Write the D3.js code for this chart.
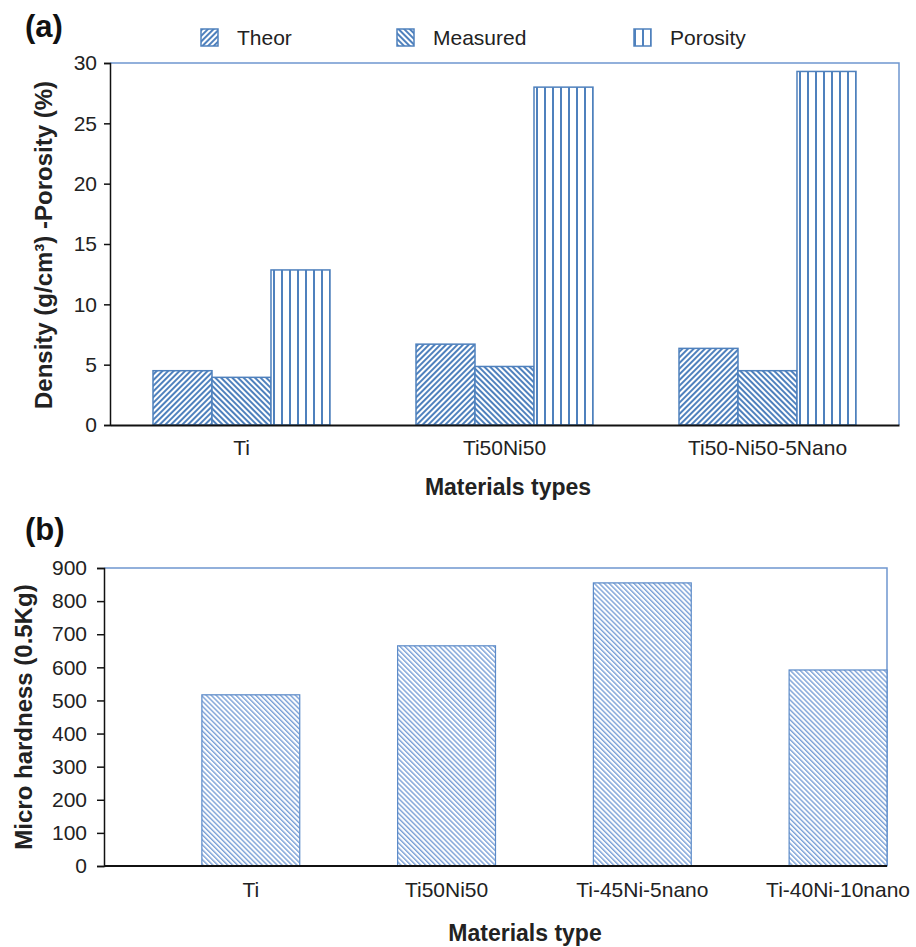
<!DOCTYPE html>
<html>
<head>
<meta charset="utf-8">
<script src="https://cdn.jsdelivr.net/npm/d3@7"></script>
<style>
  body { margin: 0; background: #fff; }
  svg { font-family: Arial, "Liberation Sans", Helvetica, sans-serif; }
</style>
</head>
<body>
<div id="chart"></div>
<script>
// panel (a) data
const catsA = ["Ti", "Ti50Ni50", "Ti50-Ni50-5Nano"];
const seriesA = ["Theor", "Measured", "Porosity"];
const theor = [4.5, 6.7, 6.35];
const measured = [3.95, 4.85, 4.5];
const porosity = [12.85, 28.0, 29.3];
const yTicksA = [0, 5, 10, 15, 20, 25, 30];

// panel (b) data
const catsB = ["Ti", "Ti50Ni50", "Ti-45Ni-5nano", "Ti-40Ni-10nano"];
const hardness = [517, 665, 855, 592];
const yTicksB = [0, 100, 200, 300, 400, 500, 600, 700, 800, 900];

const blue = "#4f81bd";
const W = 916, H = 947;

const svg = d3.select("#chart").append("svg")
  .attr("width", W)
  .attr("height", H);

// hatch patterns
const defs = svg.append("defs");
function hatch(id, angle, size, lw, color) {
  const p = defs.append("pattern")
    .attr("id", id)
    .attr("patternUnits", "userSpaceOnUse")
    .attr("width", size)
    .attr("height", size)
    .attr("patternTransform", `rotate(${angle})`);
  p.append("rect").attr("width", size).attr("height", size).attr("fill", "#fff");
  p.append("rect").attr("width", lw).attr("height", size).attr("fill", color);
}
hatch("p-theor", 45, 4, 2, blue);
hatch("p-meas", -45, 4, 2, blue);
hatch("p-poro", 0, 8, 2, blue);
hatch("p-hard", -45, 3.5, 1.4, "#7aa0d6");
const fills = { Theor: "url(#p-theor)", Measured: "url(#p-meas)", Porosity: "url(#p-poro)" };

// ---------- panel (a) ----------
const a = { left: 110, right: 899, top: 63, bottom: 425 };
const dataA = catsA.map((c, i) => ({ cat: c, Theor: theor[i], Measured: measured[i], Porosity: porosity[i] }));

const x0 = d3.scaleBand().domain(catsA).range([a.left, a.right])
  .paddingInner(0.327).paddingOuter(0.1635);
const x1 = d3.scaleBand().domain(seriesA).range([0, x0.bandwidth()]);
const yA = d3.scaleLinear().domain([0, 30]).range([a.bottom, a.top]);

// plot frame (top and right in blue)
svg.append("path")
  .attr("d", `M${a.left},${a.top}H${a.right}V${a.bottom}`)
  .attr("fill", "none").attr("stroke", "#6f97d0").attr("stroke-width", 1.5);

svg.append("g")
  .selectAll("g")
  .data(dataA)
  .join("g")
  .attr("transform", d => `translate(${x0(d.cat)},0)`)
  .selectAll("rect")
  .data(d => seriesA.map(s => ({ s, v: d[s] })))
  .join("rect")
  .attr("x", d => x1(d.s))
  .attr("y", d => yA(d.v))
  .attr("width", x1.bandwidth())
  .attr("height", d => yA(0) - yA(d.v))
  .attr("fill", d => fills[d.s])
  .attr("stroke", blue)
  .attr("stroke-width", 1.5);

const yAxA = svg.append("g")
  .attr("transform", `translate(${a.left},0)`)
  .call(d3.axisLeft(yA).tickValues(yTicksA).tickSize(6).tickPadding(7));
yAxA.selectAll("text").attr("font-size", 21).attr("fill", "#222");
yAxA.selectAll("line, path").attr("stroke", "#111").attr("stroke-width", 1.5);

const xAxA = svg.append("g")
  .attr("transform", `translate(0,${a.bottom})`)
  .call(d3.axisBottom(x0).tickSize(0).tickPadding(15));
xAxA.select(".domain").attr("stroke", "#111").attr("stroke-width", 2);
xAxA.selectAll("text").attr("font-size", 21).attr("fill", "#222");

svg.append("text")
  .attr("transform", `translate(52,245) rotate(-90)`)
  .attr("text-anchor", "middle")
  .attr("font-size", 24).attr("font-weight", "bold").attr("fill", "#222")
  .text("Density (g/cm³) -Porosity (%)");

svg.append("text")
  .attr("x", 508).attr("y", 495)
  .attr("text-anchor", "middle")
  .attr("font-size", 23).attr("font-weight", "bold").attr("fill", "#222")
  .text("Materials types");

svg.append("text")
  .attr("x", 25).attr("y", 37)
  .attr("font-size", 31).attr("font-weight", "bold").attr("fill", "#111")
  .text("(a)");

// legend
const legendX = [201, 397, 634];
const leg = svg.append("g")
  .selectAll("g")
  .data(seriesA)
  .join("g")
  .attr("transform", (d, i) => `translate(${legendX[i]},29)`);
leg.append("rect")
  .attr("width", 17).attr("height", 17)
  .attr("fill", d => fills[d])
  .attr("stroke", blue).attr("stroke-width", 1.5);
leg.append("text")
  .attr("x", 36).attr("y", 16)
  .attr("font-size", 21).attr("fill", "#222")
  .text(d => d);

// ---------- panel (b) ----------
const b = { left: 104, right: 887, top: 568, bottom: 866 };
const xB = d3.scaleBand().domain(catsB).range([b.left, b.right]);
const yB = d3.scaleLinear().domain([0, 900]).range([b.bottom, b.top]);
const bw = xB.bandwidth();

svg.append("path")
  .attr("d", `M${b.left},${b.top}H${b.right}V${b.bottom}`)
  .attr("fill", "none").attr("stroke", "#6f97d0").attr("stroke-width", 1.5);

svg.append("g")
  .selectAll("rect")
  .data(catsB.map((c, i) => ({ cat: c, v: hardness[i] })))
  .join("rect")
  .attr("x", d => xB(d.cat) + bw / 2)
  .attr("y", d => yB(d.v))
  .attr("width", bw / 2)
  .attr("height", d => yB(0) - yB(d.v))
  .attr("fill", "url(#p-hard)")
  .attr("stroke", "#5b8ac8")
  .attr("stroke-width", 1.2);

const yAxB = svg.append("g")
  .attr("transform", `translate(${b.left},0)`)
  .call(d3.axisLeft(yB).tickValues(yTicksB).tickSize(7).tickPadding(10));
yAxB.selectAll("text").attr("font-size", 21).attr("fill", "#222");
yAxB.selectAll("line, path").attr("stroke", "#111").attr("stroke-width", 1.5);

svg.append("line")
  .attr("x1", b.left).attr("x2", b.right)
  .attr("y1", b.bottom).attr("y2", b.bottom)
  .attr("stroke", "#111").attr("stroke-width", 2);

// labels sit under the bars, which fill the right half of each band
const xAxB = svg.append("g")
  .attr("transform", `translate(${bw / 4},${b.bottom})`)
  .call(d3.axisBottom(xB).tickSize(0).tickPadding(16));
xAxB.select(".domain").remove();
xAxB.selectAll("text").attr("font-size", 21).attr("fill", "#222");

svg.append("text")
  .attr("transform", `translate(32,717) rotate(-90)`)
  .attr("text-anchor", "middle")
  .attr("font-size", 24).attr("font-weight", "bold").attr("fill", "#222")
  .text("Micro hardness (0.5Kg)");

svg.append("text")
  .attr("x", 525).attr("y", 941)
  .attr("text-anchor", "middle")
  .attr("font-size", 23).attr("font-weight", "bold").attr("fill", "#222")
  .text("Materials type");

svg.append("text")
  .attr("x", 25).attr("y", 540)
  .attr("font-size", 31).attr("font-weight", "bold").attr("fill", "#111")
  .text("(b)");
</script>
</body>
</html>
